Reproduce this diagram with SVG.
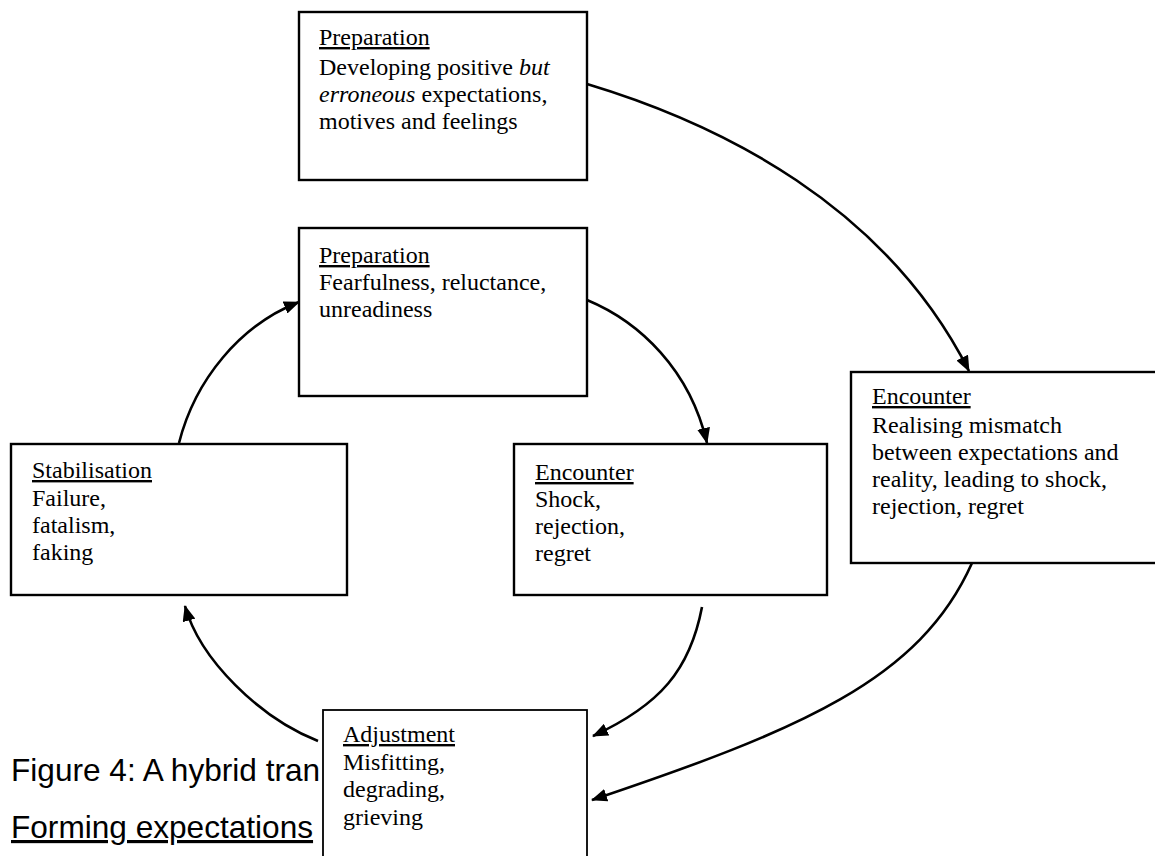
<svg xmlns="http://www.w3.org/2000/svg" width="1155" height="856" viewBox="0 0 1155 856">
<style>
.box{fill:#fff;stroke:#000;stroke-width:2.4}
.t{font-family:"Liberation Serif","Times New Roman",serif;font-size:24px;fill:#000}
.h{text-decoration:underline}
.cap{font-family:"Liberation Sans",Arial,sans-serif;font-size:31.6px;fill:#000}
.c{fill:none;stroke:#000;stroke-width:2.6;marker-end:url(#ah)}
</style>
<defs>
<marker id="ah" viewBox="0 0 16 13" refX="15" refY="6.5" markerWidth="16" markerHeight="13" orient="auto" markerUnits="userSpaceOnUse">
<path d="M0,0 L16,6.5 L0,13 z" fill="#000"/>
</marker>
</defs>
<rect width="1155" height="856" fill="#fff"/>
<g id="caption">
<text class="cap" x="11" y="781">Figure 4: A hybrid tran</text>
<text class="cap h" x="11" y="838">Forming expectations</text>
</g>
<g id="connectors">
<path class="c" d="M587,84 C720,124 885,205 969,371"/>
<path class="c" d="M587,300 C640,322 690,370 707,443"/>
<path class="c" d="M179,443 C195,380 240,325 299,302"/>
<path class="c" d="M318,741 C260,718 200,660 185,606"/>
<path class="c" d="M702,607 C690,670 660,705 593,736"/>
<path class="c" d="M972,563 C920,680 800,730 592,800"/>
</g>
<g id="prep1">
<rect class="box" x="299" y="12" width="288" height="168"/>
<text class="t" x="319" y="45"><tspan class="h">Preparation</tspan></text>
<text class="t" x="319" y="75">Developing positive <tspan font-style="italic">but</tspan></text>
<text class="t" x="319" y="102"><tspan font-style="italic">erroneous</tspan> expectations,</text>
<text class="t" x="319" y="129">motives and feelings</text>
</g>
<g id="prep2">
<rect class="box" x="299" y="228" width="288" height="168"/>
<text class="t h" x="319" y="263">Preparation</text>
<text class="t" x="319" y="290">Fearfulness, reluctance,</text>
<text class="t" x="319" y="317">unreadiness</text>
</g>
<g id="stab">
<rect class="box" x="11" y="444" width="336" height="151"/>
<text class="t h" x="32" y="478">Stabilisation</text>
<text class="t" x="32" y="506">Failure,</text>
<text class="t" x="32" y="533">fatalism,</text>
<text class="t" x="32" y="560">faking</text>
</g>
<g id="enc1">
<rect class="box" x="514" y="444" width="313" height="151"/>
<text class="t h" x="535" y="480">Encounter</text>
<text class="t" x="535" y="507">Shock,</text>
<text class="t" x="535" y="534">rejection,</text>
<text class="t" x="535" y="561">regret</text>
</g>
<g id="enc2">
<rect class="box" x="851" y="372" width="310" height="191"/>
<text class="t h" x="872" y="404">Encounter</text>
<text class="t" x="872" y="433">Realising mismatch</text>
<text class="t" x="872" y="460">between expectations and</text>
<text class="t" x="872" y="487">reality, leading to shock,</text>
<text class="t" x="872" y="514">rejection, regret</text>
</g>
<g id="adj">
<rect class="box" x="323" y="710" width="264" height="160" style="stroke-width:1.8"/>
<text class="t h" x="343" y="742">Adjustment</text>
<text class="t" x="343" y="770">Misfitting,</text>
<text class="t" x="343" y="797">degrading,</text>
<text class="t" x="343" y="825">grieving</text>
</g>
</svg>
